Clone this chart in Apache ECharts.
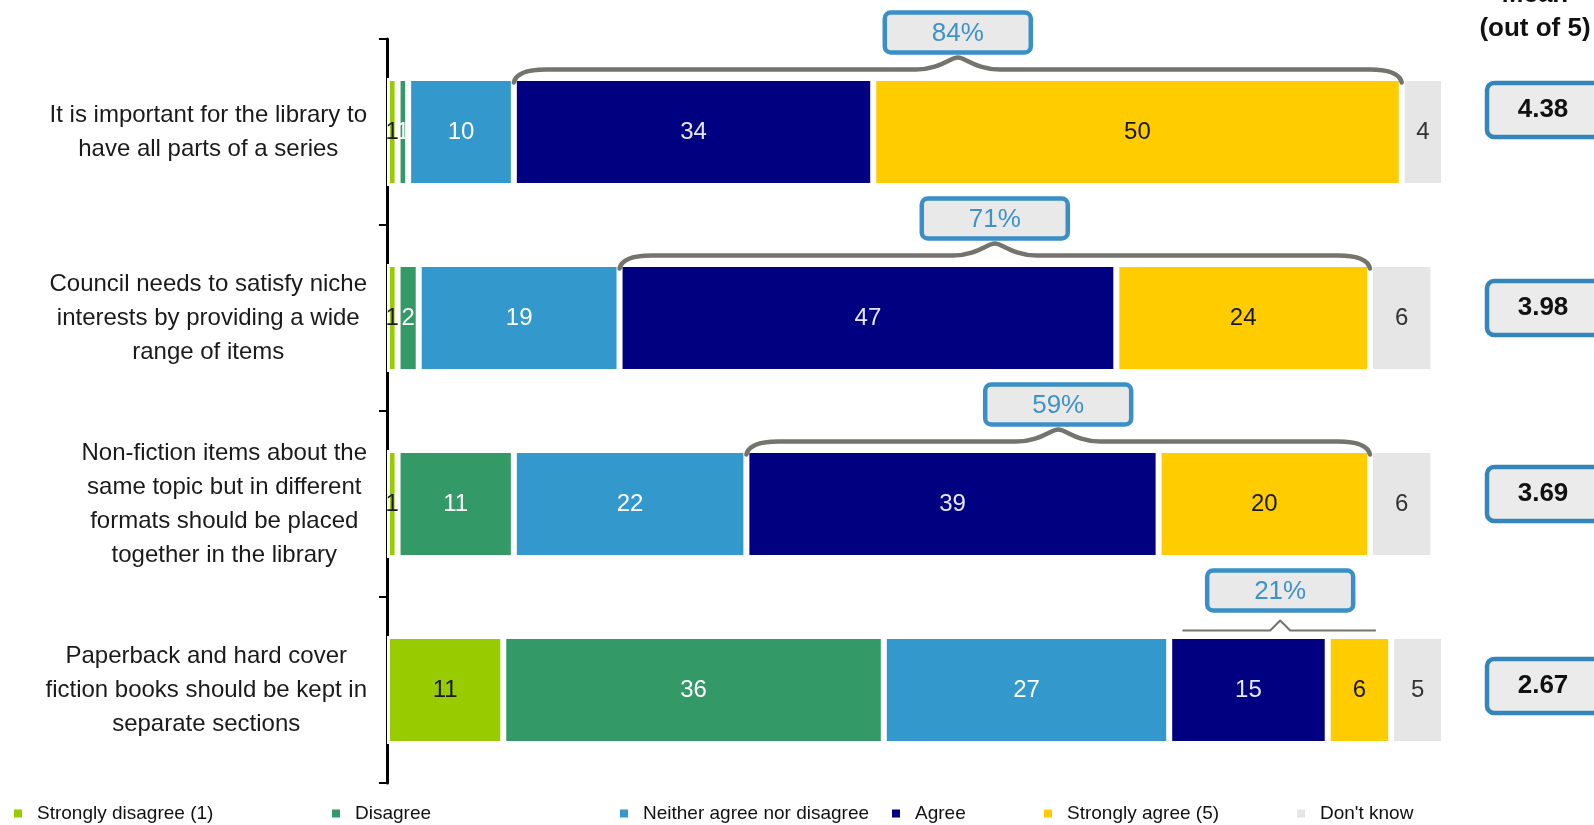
<!DOCTYPE html>
<html>
<head>
<meta charset="utf-8">
<script src="https://cdn.jsdelivr.net/npm/echarts@6/dist/echarts.min.js"></script>
<style>
  html, body { margin: 0; padding: 0; background: #ffffff; }
  #chart { width: 1594px; height: 825px; }
</style>
</head>
<body>
<div id="chart"></div>
<script>
// Survey statements (one bar each, top to bottom)
const statements = [
  'It is important for the library to\nhave all parts of a series',
  'Council needs to satisfy niche\ninterests by providing a wide\nrange of items',
  'Non-fiction items about the\nsame topic but in different\nformats should be placed\ntogether in the library',
  'Paperback and hard cover\nfiction books should be kept in\nseparate sections'
];

// Response categories
const responseNames = [
  'Strongly disagree (1)',
  'Disagree',
  'Neither agree nor disagree',
  'Agree',
  'Strongly agree (5)',
  "Don't know"
];

// Percentages of respondents per statement
const stronglyDisagree = [1, 1, 1, 11];
const disagree         = [1, 2, 11, 36];
const neither          = [10, 19, 22, 27];
const agree            = [34, 47, 39, 15];
const stronglyAgree    = [50, 24, 20, 6];
const dontKnow         = [4, 6, 6, 5];

// Mean score out of 5
const meanScores = [4.38, 3.98, 3.69, 2.67];

// ---- styling ----
const FONT = '"Liberation Sans", Arial, Helvetica, sans-serif';
const colors = ['#99cc00', '#339966', '#3399cc', '#000080', '#ffcc00', '#e6e6e6'];
const labelColors = ['#1a1a1a', '#ffffff', '#ffffff', '#e6e6ff', '#1a1a1a', '#333333'];
const BAR_H = 105;           // visible bar thickness
const SEP = 3;               // white separator between segments
const legendLeft = [12, 330, 618, 890, 1042, 1295];
const meanNudge = [-22, -10, -10, -4];

const valueSets = [stronglyDisagree, disagree, neither, agree, stronglyAgree, dontKnow];

const barSeries = responseNames.map((name, k) => ({
  name: name,
  type: 'bar',
  stack: 'total',
  barWidth: BAR_H + SEP,
  data: valueSets[k],
  itemStyle: { color: colors[k], borderColor: '#ffffff', borderWidth: SEP },
  label: {
    show: true,
    position: 'inside',
    fontFamily: FONT,
    fontSize: 24,
    color: labelColors[k]
  },
  emphasis: { disabled: true },
  silent: true
}));

// Net agreement (Agree + Strongly agree) spans
const braceData = statements.map((_, i) => {
  const start = stronglyDisagree[i] + disagree[i] + neither[i];
  const end = start + agree[i] + stronglyAgree[i];
  return [i, start, end, agree[i] + stronglyAgree[i]];
});

function renderBrace(params, api) {
  const row = api.value(0);
  const p0 = api.coord([api.value(1), row]);
  const p1 = api.coord([api.value(2), row]);
  const pct = api.value(3);
  const top = p0[1] - BAR_H / 2;
  const x0 = p0[0], x1 = p1[0], xm = (x0 + x1) / 2;
  let d, lw;
  if (x1 - x0 > 300) {
    const yl = top - 10, yp = top - 22, yb = top + 3, c = 32;
    d = `M${x0} ${yb} Q${x0 + 3} ${yl} ${x0 + c} ${yl} L${xm - 42} ${yl} ` +
        `C${xm - 18} ${yl} ${xm - 8} ${yp} ${xm} ${yp} ` +
        `C${xm + 8} ${yp} ${xm + 18} ${yl} ${xm + 42} ${yl} ` +
        `L${x1 - c} ${yl} Q${x1 - 3} ${yl} ${x1} ${yb}`;
    lw = 4.5;
  } else {
    const yl = top - 7, yp = top - 17, a = x0 + 14, b = x1 - 16;
    d = `M${a} ${yl} L${xm - 10} ${yl} L${xm} ${yp} L${xm + 10} ${yl} L${b} ${yl}`;
    lw = 2;
  }
  return {
    type: 'group',
    children: [
      { type: 'path', shape: { pathData: d },
        style: { fill: 'none', stroke: '#74746c', lineWidth: lw, lineJoin: 'round', lineCap: 'round' } },
      { type: 'rect', shape: { x: xm - 73, y: top - 67, width: 146, height: 40, r: 6 },
        style: { fill: '#e9e9e9', stroke: '#3a8fc6', lineWidth: 4.5 } },
      { type: 'text',
        style: { text: pct + '%', x: xm, y: top - 46, align: 'center', verticalAlign: 'middle',
                 fill: '#3d93c8', fontSize: 26, fontFamily: FONT } }
    ]
  };
}

const meanData = meanScores.map((m, i) => [i, m]);

function renderMean(params, api) {
  const row = api.value(0);
  const y = api.coord([0, row])[1] + meanNudge[row];
  const m = api.value(1);
  return {
    type: 'group',
    children: [
      { type: 'rect', shape: { x: 1487, y: y - 27, width: 130, height: 54, r: 7 },
        style: { fill: '#ebebeb', stroke: '#3585bd', lineWidth: 4.5 } },
      { type: 'text',
        style: { text: m.toFixed(2), x: 1543, y: y, align: 'center', verticalAlign: 'middle',
                 fill: '#111111', fontSize: 26, fontWeight: 'bold', fontFamily: FONT } }
    ]
  };
}

const chart = echarts.init(document.getElementById('chart'), null, { renderer: 'canvas' });

chart.setOption({
  backgroundColor: '#ffffff',
  animation: false,
  textStyle: { fontFamily: FONT },
  grid: { left: 387, right: 150, top: 39, height: 744, containLabel: false },
  xAxis: {
    type: 'value',
    min: 0,
    max: 100,
    show: false
  },
  yAxis: {
    type: 'category',
    inverse: true,
    data: statements,
    axisLine: { show: true, lineStyle: { color: '#000000', width: 3 } },
    axisTick: { show: true, length: 8, lineStyle: { color: '#000000', width: 2 } },
    axisLabel: {
      margin: 20,
      align: 'right',
      formatter: (v) => v.split('\n').map(s => '{c|' + s + '}').join('\n'),
      rich: {
        c: { align: 'center', fontSize: 24, lineHeight: 34, color: '#1a1a1a', fontFamily: FONT }
      }
    },
    splitLine: { show: false }
  },
  legend: responseNames.map((n, k) => ({
    data: [n],
    left: legendLeft[k],
    top: 804,
    padding: 0,
    icon: 'rect',
    itemWidth: 10,
    itemHeight: 10,
    selectedMode: false,
    textStyle: { fontSize: 19, color: '#111111', fontFamily: FONT, padding: [0, 0, 0, 9] }
  })),
  graphic: [
    { type: 'text', x: 1535, y: -5,
      style: { text: 'Mean', align: 'center', verticalAlign: 'middle', fill: '#111111',
               fontSize: 26, fontWeight: 'bold', fontFamily: FONT } },
    { type: 'text', x: 1535, y: 29,
      style: { text: '(out of 5)', align: 'center', verticalAlign: 'middle', fill: '#111111',
               fontSize: 26, fontWeight: 'bold', fontFamily: FONT } }
  ],
  series: barSeries.concat([
    {
      type: 'custom',
      name: 'net agree',
      renderItem: renderBrace,
      data: braceData,
      encode: { x: [1, 2], y: 0 },
      clip: false,
      silent: true,
      z: 5
    },
    {
      type: 'custom',
      name: 'mean',
      renderItem: renderMean,
      data: meanData,
      encode: { y: 0 },
      clip: false,
      silent: true,
      z: 5
    }
  ])
});
</script>
</body>
</html>
